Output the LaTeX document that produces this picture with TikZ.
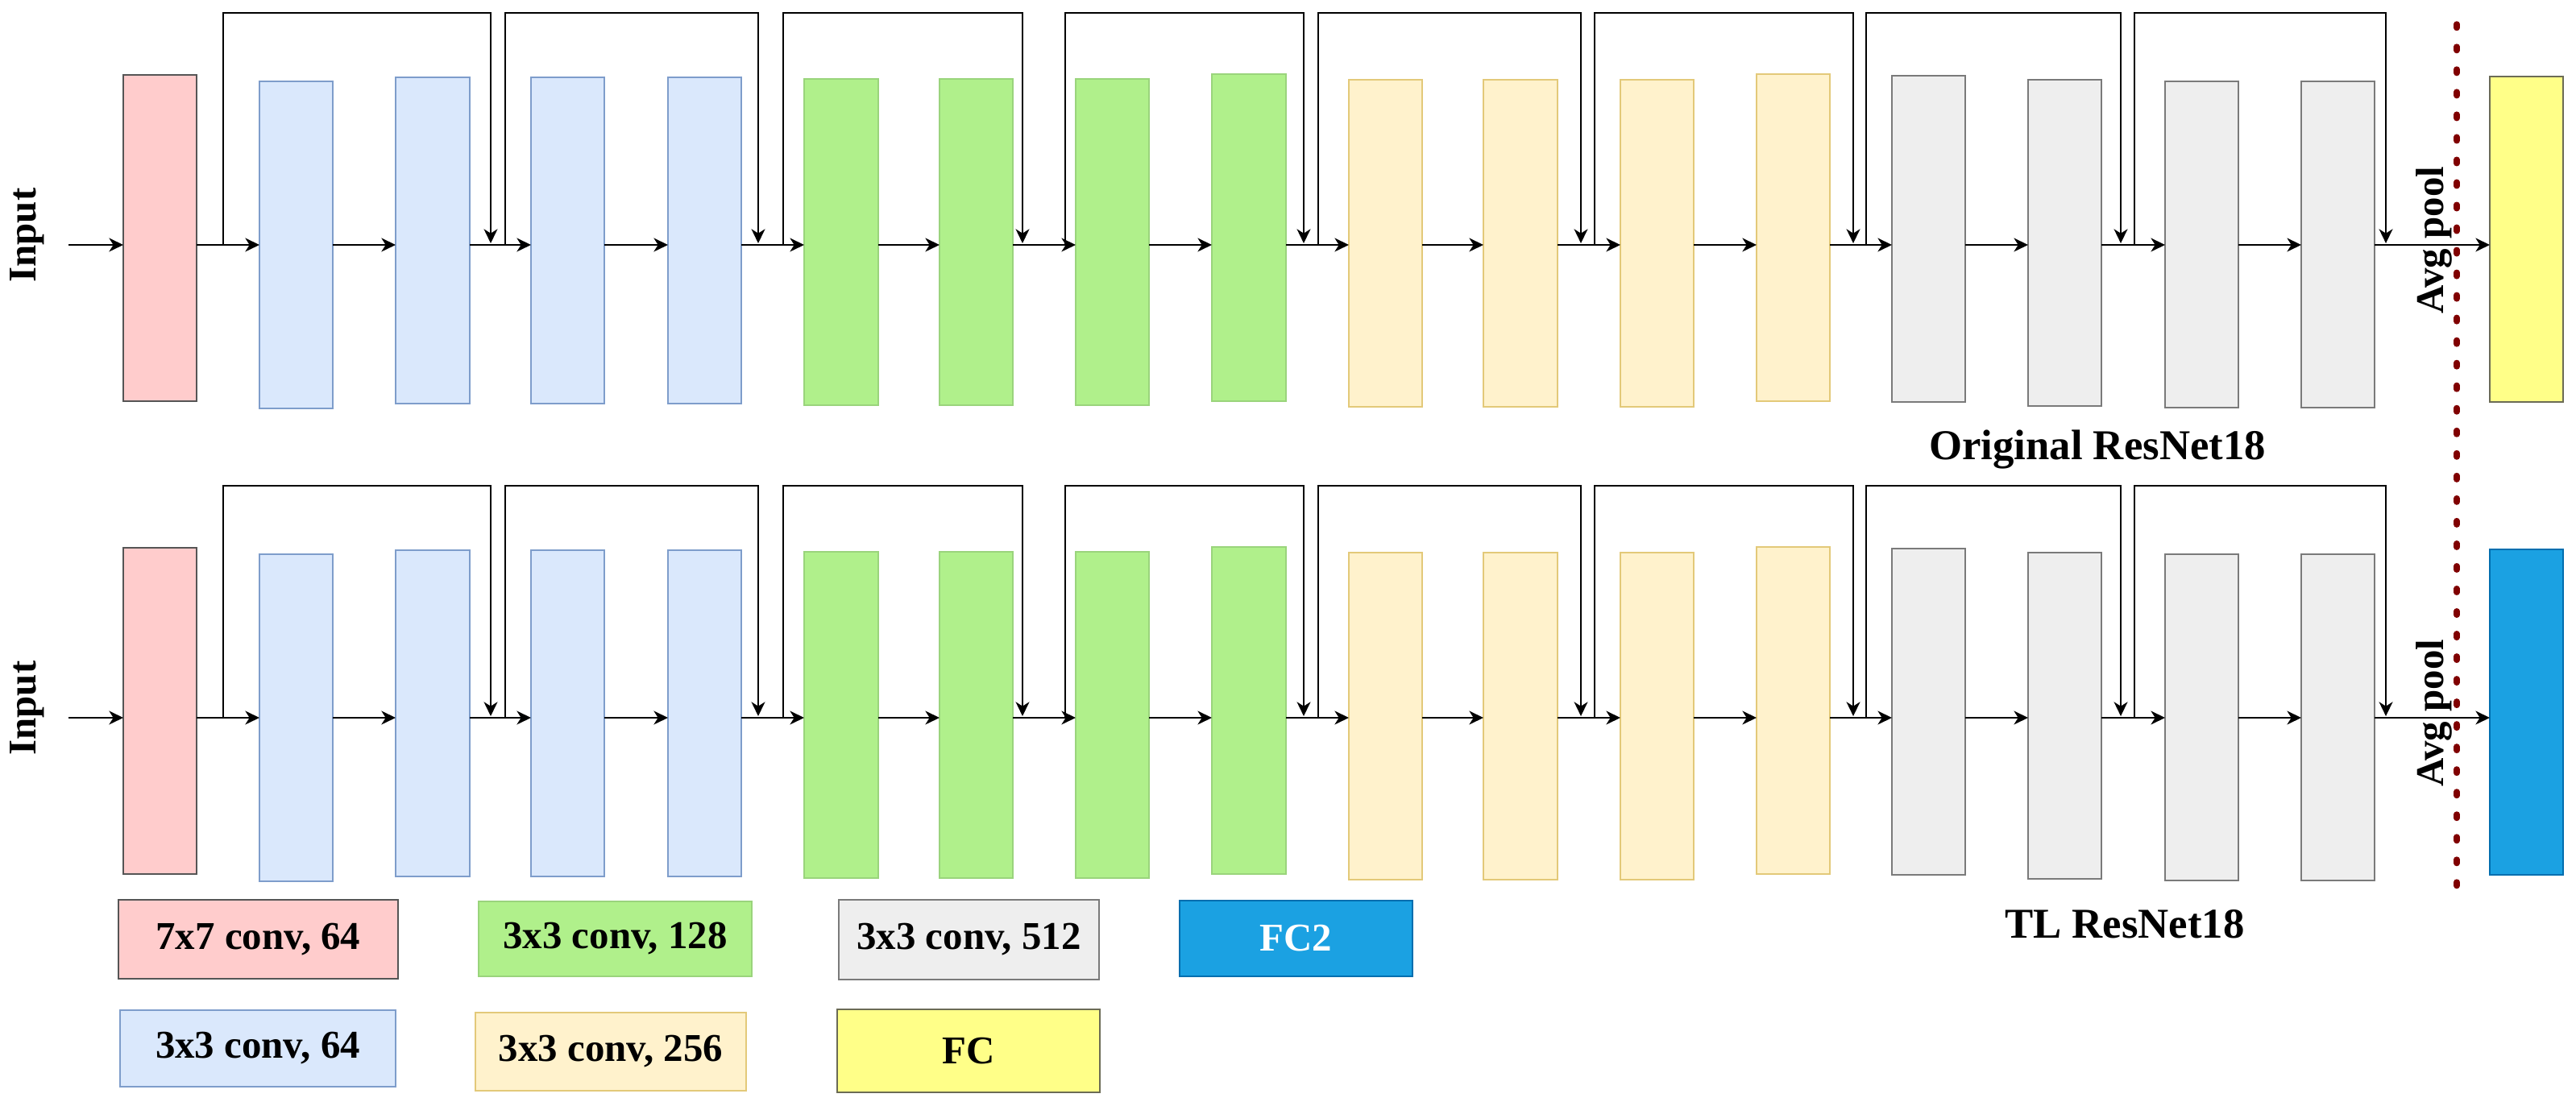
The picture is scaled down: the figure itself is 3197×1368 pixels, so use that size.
\documentclass[tikz,border=0pt]{standalone}
\usepackage{fontspec}
\setmainfont{Liberation Serif}
\usetikzlibrary{arrows.meta,calc}
\definecolor{pinkF}{HTML}{FFCCCC}
\definecolor{pinkD}{HTML}{555555}
\definecolor{blueF}{HTML}{DAE8FC}
\definecolor{blueD}{HTML}{7E9DCB}
\definecolor{greenF}{HTML}{B0F08B}
\definecolor{greenD}{HTML}{9AD47C}
\definecolor{yelF}{HTML}{FFF2CC}
\definecolor{yelD}{HTML}{E3C979}
\definecolor{grayF}{HTML}{EEEEEE}
\definecolor{grayD}{HTML}{7A7A7A}
\definecolor{fcF}{HTML}{FFFF88}
\definecolor{fcD}{HTML}{6B6B55}
\definecolor{fctwoF}{HTML}{1BA1E2}
\definecolor{fctwoD}{HTML}{006EAF}
\definecolor{dotred}{HTML}{800000}
\begin{document}
\begin{tikzpicture}[x=0.01cm,y=-0.01cm,
  blk/.style={draw,line width=0.6pt,inner sep=0pt,outer sep=0pt},
  arr/.style={draw=black,line width=0.65pt,-{Stealth[length=5pt,width=4.8pt,inset=1.5pt]}},
  lab/.style={font=\fontsize{13.9}{16}\selectfont\bfseries},
  titlelab/.style={font=\fontsize{15}{18}\selectfont\bfseries},
  dotline/.style={draw=dotred,line width=2.1pt,line cap=round,dash pattern=on 1.3pt off 6.67pt},
  leg/.style={blk,lab,align=center}
  ]
\useasboundingbox (0,0) rectangle (3197,1368);

\foreach \rw/\off in {t/0,b/587}{
  \foreach \n/\fc/\dc/\xa/\ya/\xb/\yb in {
    pink/pinkF/pinkD/153/93/244/498,
    b1/blueF/blueD/322/101/413/507,
    b2/blueF/blueD/491/96/583/501,
    b3/blueF/blueD/659/96/750/501,
    b4/blueF/blueD/829/96/920/501,
    g1/greenF/greenD/998/98/1090/503,
    g2/greenF/greenD/1166/98/1257/503,
    g3/greenF/greenD/1335/98/1426/503,
    g4/greenF/greenD/1504/92/1596/498,
    y1/yelF/yelD/1674/99/1765/505,
    y2/yelF/yelD/1841/99/1933/505,
    y3/yelF/yelD/2011/99/2102/505,
    y4/yelF/yelD/2180/92/2271/498,
    r1/grayF/grayD/2348/94/2439/499,
    r2/grayF/grayD/2517/99/2608/504,
    r3/grayF/grayD/2687/101/2778/506,
    r4/grayF/grayD/2856/101/2947/506}{
    \pgfmathsetmacro\bw{(\xb-\xa)*0.01}
    \pgfmathsetmacro\bh{(\yb-\ya)*0.01}
    \node[blk,fill=\fc,draw=\dc,minimum width=\bw cm,minimum height=\bh cm]
      (\rw\n) at ({(\xa+\xb)/2},{(\ya+\yb)/2+\off}) {};
  }
  \coordinate (\rw-main) at (0,304+\off);
  \coordinate (\rw-top) at (0,16+\off);
  \coordinate (\rw-in) at (85,304+\off);
  \draw[arr] (\rw-in) -- (\rw pink.west |- \rw-main);
  \node[lab,rotate=90] (\rw-inlab) at (34,292+\off) {Input};
  \node[lab,rotate=90] (\rw-avg) at (3021,298+\off) {Avg pool};
}

\node[blk,fill=fcF,draw=fcD,minimum width=0.91cm,minimum height=4.04cm] (tfc) at (3135.5,297) {};
\node[blk,fill=fctwoF,draw=fctwoD,minimum width=0.91cm,minimum height=4.04cm] (bfc) at (3135.5,884) {};

\foreach \rw/\off in {t/0,b/587}{
  \foreach \a/\b in {pink/b1,b1/b2,b2/b3,b3/b4,b4/g1,g1/g2,g2/g3,g3/g4,g4/y1,y1/y2,y2/y3,y3/y4,y4/r1,r1/r2,r2/r3,r3/r4,r4/fc}{
    \draw[arr] (\rw\a.east |- \rw-main) -- (\rw\b.west |- \rw-main);
  }
  \foreach \i/\sa/\sb in {1/277/609,2/627/941,3/972/1269,4/1322/1618,5/1636/1962,6/1979/2300,7/2316/2632,8/2649/2961}{
    \coordinate (\rw-sa\i) at (\sa,304+\off);
    \coordinate (\rw-sb\i) at (\sb,302+\off);
    \draw[arr] (\rw-sa\i) -- (\rw-sa\i |- \rw-top) -- (\rw-sb\i |- \rw-top) -- (\rw-sb\i);
  }
}

\coordinate (dl1) at (3049,30);
\coordinate (dl2) at (3049,1101);
\draw[dotline] (dl1) -- (dl2);

\node[titlelab,anchor=base] (t-title) at (2603,571) {Original ResNet18};
\node[titlelab,anchor=base] (b-title) at (2637,1165) {TL ResNet18};

\node[leg,fill=pinkF,draw=pinkD,minimum width=3.47cm,minimum height=0.98cm] (lg1) at (320.5,1166) {7x7 conv, 64};
\node[leg,fill=greenF,draw=greenD,minimum width=3.39cm,minimum height=0.93cm] (lg2) at (763.5,1165.5) {3x3 conv, 128};
\node[leg,fill=grayF,draw=grayD,minimum width=3.23cm,minimum height=0.99cm] (lg3) at (1202.5,1166.5) {3x3 conv, 512};
\node[leg,fill=fctwoF,draw=fctwoD,text=white,minimum width=2.89cm,minimum height=0.94cm] (lg4) at (1608.5,1165) {FC2};
\node[leg,fill=blueF,draw=blueD,minimum width=3.42cm,minimum height=0.95cm] (lg5) at (320,1301.5) {3x3 conv, 64};
\node[leg,fill=yelF,draw=yelD,minimum width=3.36cm,minimum height=0.97cm] (lg6) at (758,1305.5) {3x3 conv, 256};
\node[leg,fill=fcF,draw=fcD,minimum width=3.26cm,minimum height=1.03cm] (lg7) at (1202,1304.5) {FC};
\end{tikzpicture}
\end{document}
